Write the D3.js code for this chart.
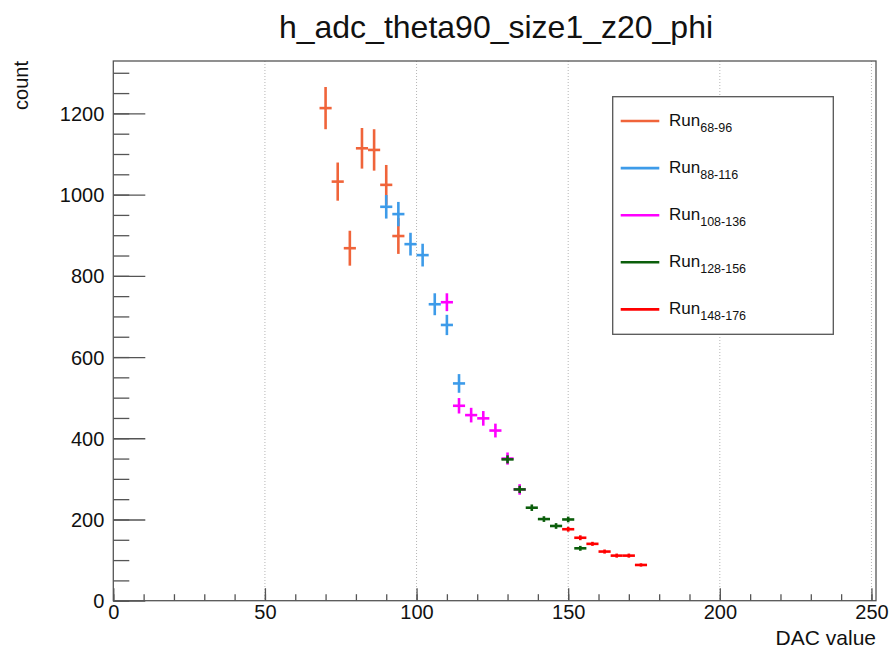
<!DOCTYPE html>
<html>
<head>
<meta charset="utf-8">
<script src="https://cdn.jsdelivr.net/npm/d3@7"></script>
<style>
  html, body { margin: 0; padding: 0; background: #fff; }
  svg { display: block; font-family: "Liberation Sans", Arial, Helvetica, sans-serif; }
</style>
</head>
<body>
<svg id="chart" width="890" height="651"></svg>
<script>
// ---- data: DAC value bin centres (bin width 4), counts and their errors per run ----
const runNames = ["68-96", "88-116", "108-136", "128-156", "148-176"];
const runColors = ["#f0643a", "#3d9be9", "#ff00ff", "#0b5e0b", "#ff0000"];

const dac68 = [70, 74, 78, 82, 86, 90, 94];
const cnt68 = [1213, 1032, 868, 1114, 1110, 1024, 898];
const err68 = [52, 47, 43, 50, 51, 49, 44];

const dac88 = [90, 94, 98, 102, 106, 110, 114];
const cnt88 = [970, 952, 878, 851, 730, 679, 535];
const err88 = [29, 30, 28, 28, 27, 25, 23];

const dac108 = [110, 114, 118, 122, 126, 130, 134];
const cnt108 = [735, 480, 457, 449, 419, 350, 274];
const err108 = [22, 19, 18, 18, 17, 15, 13];

const dac128 = [130, 134, 138, 142, 146, 150, 154];
const cnt128 = [348, 274, 229, 201, 184, 200, 129];
const err128 = [10, 9, 8, 7, 7, 7, 6];

const dac148 = [150, 154, 158, 162, 166, 170, 174];
const cnt148 = [176, 155, 140, 121, 111, 111, 88];
const err148 = [6, 6, 5, 5, 5, 5, 4];

const binWidth = 4;
const xMajorTicks = [0, 50, 100, 150, 200, 250];
const yMajorTicks = [0, 200, 400, 600, 800, 1000, 1200];

const runs = [
  { dac: dac68, cnt: cnt68, err: err68 },
  { dac: dac88, cnt: cnt88, err: err88 },
  { dac: dac108, cnt: cnt108, err: err108 },
  { dac: dac128, cnt: cnt128, err: err128 },
  { dac: dac148, cnt: cnt148, err: err148 }
].map((r, i) => ({
  name: runNames[i],
  color: runColors[i],
  points: r.dac.map((x, j) => ({ x, y: r.cnt[j], e: r.err[j] }))
}));

// ---- frame geometry ----
const svg = d3.select("#chart");
const frame = { left: 113.3, right: 876, top: 61, bottom: 600.7 };

const x = d3.scaleLinear().domain([0, 251.5]).range([frame.left, frame.right]);
const y = d3.scaleLinear().domain([0, 1329]).range([frame.bottom, frame.top]);

const axisColor = "#555";

// vertical dotted grid at the major x ticks
svg.append("g")
  .selectAll("line")
  .data(xMajorTicks.filter(d => d > 0))
  .join("line")
  .attr("x1", d => x(d)).attr("x2", d => x(d))
  .attr("y1", frame.top).attr("y2", frame.bottom)
  .attr("stroke", "#b5b5b5")
  .attr("stroke-width", 1)
  .attr("stroke-dasharray", "1,2");

// minor and major ticks point into the frame
const xMinor = d3.axisBottom(x).tickValues(d3.range(0, 251, 10)).tickSize(-6.5).tickFormat("");
const xMajor = d3.axisBottom(x).tickValues(xMajorTicks).tickSize(-12.5).tickPadding(0).tickFormat(d3.format("d"));
const yMinor = d3.axisLeft(y).tickValues(d3.range(0, 1329, 50)).tickSize(-16).tickFormat("");
const yMajor = d3.axisLeft(y).tickValues(yMajorTicks).tickSize(-32).tickPadding(0).tickFormat(d3.format("d"));

function styleAxis(g) {
  g.select(".domain").remove();
  g.selectAll(".tick line").attr("stroke", axisColor).attr("stroke-width", 1.3);
}

svg.append("g").attr("transform", `translate(0,${frame.bottom})`).call(xMinor).call(styleAxis);
const gxMajor = svg.append("g").attr("transform", `translate(0,${frame.bottom})`).call(xMajor).call(styleAxis);
svg.append("g").attr("transform", `translate(${frame.left},0)`).call(yMinor).call(styleAxis);
const gyMajor = svg.append("g").attr("transform", `translate(${frame.left},0)`).call(yMajor).call(styleAxis);

gxMajor.selectAll(".tick text")
  .attr("y", 18).attr("dy", 0)
  .attr("fill", "#111")
  .style("font-size", "20px")
  .style("font-family", "Liberation Sans, Arial, sans-serif");

gyMajor.selectAll(".tick text")
  .attr("x", -9).attr("dy", "0.35em")
  .attr("fill", "#111")
  .style("font-size", "20px")
  .style("font-family", "Liberation Sans, Arial, sans-serif");

// frame box
svg.append("rect")
  .attr("x", frame.left).attr("y", frame.top)
  .attr("width", frame.right - frame.left)
  .attr("height", frame.bottom - frame.top)
  .attr("fill", "none")
  .attr("stroke", axisColor)
  .attr("stroke-width", 1.3);

// error-bar crosses, one group per run
const half = binWidth / 2;
const marks = svg.append("g");
runs.forEach(run => {
  const g = marks.append("g").attr("stroke", run.color).attr("stroke-width", 2.6);
  g.selectAll("line.v")
    .data(run.points)
    .join("line")
    .attr("class", "v")
    .attr("x1", d => x(d.x)).attr("x2", d => x(d.x))
    .attr("y1", d => y(d.y - d.e)).attr("y2", d => y(d.y + d.e));
  g.selectAll("line.h")
    .data(run.points)
    .join("line")
    .attr("class", "h")
    .attr("x1", d => x(d.x - half)).attr("x2", d => x(d.x + half))
    .attr("y1", d => y(d.y)).attr("y2", d => y(d.y));
});

// title and axis titles
svg.append("text")
  .attr("x", 496).attr("y", 38)
  .attr("text-anchor", "middle")
  .attr("fill", "#111")
  .style("font-size", "32px")
  .text("h_adc_theta90_size1_z20_phi");

svg.append("text")
  .attr("x", frame.right).attr("y", 645)
  .attr("text-anchor", "end")
  .attr("fill", "#111")
  .style("font-size", "21px")
  .text("DAC value");

svg.append("text")
  .attr("transform", `translate(28,${frame.top}) rotate(-90)`)
  .attr("text-anchor", "end")
  .attr("fill", "#111")
  .style("font-size", "20px")
  .text("count");

// legend
const legend = svg.append("g");
const lg = { x: 612.7, y: 96.7, w: 220.6, h: 237.6, row0: 121, step: 47.1 };
legend.append("rect")
  .attr("x", lg.x).attr("y", lg.y)
  .attr("width", lg.w).attr("height", lg.h)
  .attr("fill", "#fff")
  .attr("stroke", axisColor)
  .attr("stroke-width", 1.3);

const rows = legend.selectAll("g.row")
  .data(runs)
  .join("g")
  .attr("class", "row")
  .attr("transform", (d, i) => `translate(0,${lg.row0 + i * lg.step})`);

rows.append("line")
  .attr("x1", 620.7).attr("x2", 659.3)
  .attr("y1", 0).attr("y2", 0)
  .attr("stroke", d => d.color)
  .attr("stroke-width", 2.6);

const labels = rows.append("text")
  .attr("x", 669).attr("y", 5)
  .attr("fill", "#111")
  .style("font-size", "17px");
labels.append("tspan").text("Run");
labels.append("tspan")
  .attr("dy", 5.5)
  .style("font-size", "12.5px")
  .text(d => d.name);
</script>
</body>
</html>
